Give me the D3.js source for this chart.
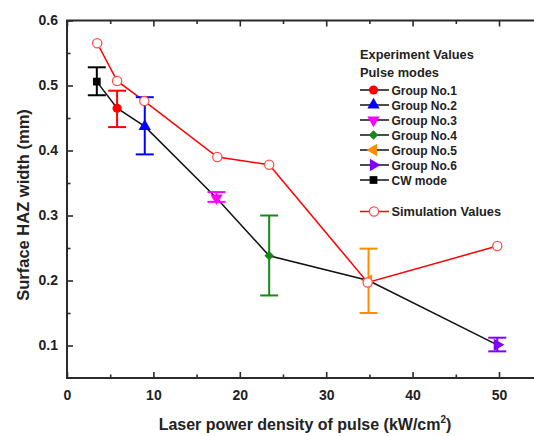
<!DOCTYPE html>
<html>
<head>
<meta charset="utf-8">
<script src="https://cdn.jsdelivr.net/npm/d3@7/dist/d3.min.js"></script>
<style>
  html, body { margin: 0; padding: 0; background: #fff; }
  svg { display: block; font-family: "Liberation Sans", Arial, sans-serif; }
</style>
</head>
<body>
<svg id="chart" width="534" height="436"></svg>
<script>
// Experimental groups (power density kW/cm², HAZ width mm, error low, error high)
const groupNames  = ["Group No.1", "Group No.2", "Group No.3", "Group No.4", "Group No.5", "Group No.6", "CW mode"];
const groupX      = [5.8, 9.0, 17.3, 23.4, 34.9, 49.8, 3.45];
const groupY      = [0.465, 0.437, 0.327, 0.238, 0.200, 0.101, 0.506];
const groupErrLo  = [0.436, 0.394, 0.321, 0.177, 0.150, 0.091, 0.485];
const groupErrHi  = [0.492, 0.482, 0.336, 0.300, 0.249, 0.112, 0.528];
const groupColors = ["#ff0000", "#0000ff", "#ff00ff", "#148a14", "#ff8c00", "#8000ff", "#000000"];
const groupShapes = ["circle", "triangle", "triangleDown", "diamond", "triangleLeft", "triangleRight", "square"];

// Experimental trend line order (by power density)
const expOrder = [6, 0, 1, 2, 3, 4, 5];

// Simulation values
const simX = [3.5, 5.8, 8.95, 17.4, 23.4, 34.8, 49.8];
const simY = [0.565, 0.507, 0.476, 0.390, 0.378, 0.197, 0.253];

// Axis ticks
const xTicks = [0, 10, 20, 30, 40, 50];
const xMinor = [5, 15, 25, 35, 45];
const yTicks = [0.1, 0.2, 0.3, 0.4, 0.5, 0.6];
const yMinor = [0.15, 0.25, 0.35, 0.45, 0.55];

(function () {
const svg = d3.select("#chart");
const mLeft = 67, mTop = 20.5, mBottom = 378, mRight = 545;

const x = d3.scaleLinear().domain([0, 50]).range([67, 499]);
const y = d3.scaleLinear().domain([0.05, 0.6]).range([mBottom, mTop]);

const axisColor = "#2b2b2b";

// Frame
svg.append("rect")
  .attr("x", mLeft).attr("y", mTop)
  .attr("width", mRight - mLeft).attr("height", mBottom - mTop)
  .attr("fill", "none").attr("stroke", axisColor).attr("stroke-width", 2);

function styleAxis(g) {
  g.select(".domain").remove();
  g.selectAll(".tick line").attr("stroke", axisColor).attr("stroke-width", 1.6);
  g.selectAll(".tick text")
    .attr("fill", "#222")
    .style("font-size", "14px")
    .style("font-weight", "bold");
}

// Bottom axis (ticks inward)
svg.append("g").attr("transform", `translate(0,${mBottom})`)
  .call(d3.axisBottom(x).tickValues(xTicks).tickSize(-6).tickPadding(12).tickFormat(d3.format("d")))
  .call(styleAxis);
svg.append("g").attr("transform", `translate(0,${mBottom})`)
  .call(d3.axisBottom(x).tickValues(xMinor).tickSize(-3.5).tickFormat(""))
  .call(styleAxis);
// Top axis mirrored ticks
svg.append("g").attr("transform", `translate(0,${mTop})`)
  .call(d3.axisTop(x).tickValues(xTicks).tickSize(-6).tickFormat(""))
  .call(styleAxis);
svg.append("g").attr("transform", `translate(0,${mTop})`)
  .call(d3.axisTop(x).tickValues(xMinor).tickSize(-3.5).tickFormat(""))
  .call(styleAxis);

// Left axis (ticks inward)
svg.append("g").attr("transform", `translate(${mLeft},0)`)
  .call(d3.axisLeft(y).tickValues(yTicks).tickSize(-6).tickPadding(9).tickFormat(d3.format(".1f")))
  .call(styleAxis);
svg.append("g").attr("transform", `translate(${mLeft},0)`)
  .call(d3.axisLeft(y).tickValues(yMinor).tickSize(-3.5).tickFormat(""))
  .call(styleAxis);

// Axis titles
const xTitle = svg.append("text")
  .attr("x", 305).attr("y", 430)
  .attr("text-anchor", "middle")
  .style("font-size", "16px").style("font-weight", "bold").attr("fill", "#222");
xTitle.append("tspan").text("Laser power density of pulse (kW/cm");
xTitle.append("tspan").attr("dy", -7).style("font-size", "10px").text("2");
xTitle.append("tspan").attr("dy", 7).text(")");

svg.append("text")
  .attr("transform", "translate(29,205) rotate(-90)")
  .attr("text-anchor", "middle")
  .style("font-size", "16.5px").style("font-weight", "bold").attr("fill", "#222")
  .text("Surface HAZ width (mm)");

// Marker symbols (diamond = square turned 45°)
function symbolFor(shape, size) {
  const types = {
    circle: d3.symbolCircle, square: d3.symbolSquare, diamond: d3.symbolSquare,
    triangle: d3.symbolTriangle, triangleDown: d3.symbolTriangle,
    triangleLeft: d3.symbolTriangle, triangleRight: d3.symbolTriangle
  };
  return d3.symbol().type(types[shape]).size(size)();
}
function rotationFor(shape) {
  return { triangleDown: 180, triangleLeft: -90, triangleRight: 90, diamond: 45 }[shape] || 0;
}

const plot = svg.append("g");

// Experimental trend line
const line = d3.line().x(d => x(d[0])).y(d => y(d[1]));
plot.append("path")
  .datum(expOrder.map(i => [groupX[i], groupY[i]]))
  .attr("d", line).attr("fill", "none").attr("stroke", "#111").attr("stroke-width", 1.5);

// Simulation line
plot.append("path")
  .datum(simX.map((v, i) => [v, simY[i]]))
  .attr("d", line).attr("fill", "none").attr("stroke", "#ff0000").attr("stroke-width", 1.5);

// Error bars
const cap = 9;
groupX.forEach((gx, i) => {
  const g = plot.append("g").attr("stroke", groupColors[i]).attr("stroke-width", 2);
  const px = x(gx);
  g.append("line").attr("x1", px).attr("x2", px).attr("y1", y(groupErrLo[i])).attr("y2", y(groupErrHi[i]));
  g.append("line").attr("x1", px - cap).attr("x2", px + cap).attr("y1", y(groupErrLo[i])).attr("y2", y(groupErrLo[i]));
  g.append("line").attr("x1", px - cap).attr("x2", px + cap).attr("y1", y(groupErrHi[i])).attr("y2", y(groupErrHi[i]));
});

// Experimental markers
const markerSize = { circle: 66, square: 60, diamond: 46, triangle: 66, triangleDown: 66, triangleLeft: 66, triangleRight: 66 };
groupX.forEach((gx, i) => {
  plot.append("path")
    .attr("d", symbolFor(groupShapes[i], markerSize[groupShapes[i]]))
    .attr("transform", `translate(${x(gx)},${y(groupY[i])}) rotate(${rotationFor(groupShapes[i])})`)
    .attr("fill", groupColors[i]);
});

// Simulation markers (open circles)
plot.selectAll(".sim").data(simX).enter().append("circle")
  .attr("cx", d => x(d)).attr("cy", (d, i) => y(simY[i]))
  .attr("r", 4.6).attr("fill", "#fff").attr("stroke", "#ff5050").attr("stroke-width", 1.3);

// Legend
const legend = svg.append("g").attr("fill", "#222").style("font-weight", "bold");
legend.append("text").attr("x", 360).attr("y", 59).style("font-size", "12.8px").text("Experiment Values");
legend.append("text").attr("x", 360).attr("y", 76.5).style("font-size", "12.8px").text("Pulse modes");

const rowY0 = 90, rowStep = 15;
groupNames.forEach((name, i) => {
  const cy = rowY0 + i * rowStep;
  legend.append("line").attr("x1", 360).attr("x2", 389).attr("y1", cy).attr("y2", cy)
    .attr("stroke", "#111").attr("stroke-width", 1.5);
  legend.append("path")
    .attr("d", symbolFor(groupShapes[i], markerSize[groupShapes[i]]))
    .attr("transform", `translate(373.5,${cy}) rotate(${rotationFor(groupShapes[i])})`)
    .attr("fill", groupColors[i]);
  legend.append("text").attr("x", 391.5).attr("y", cy + 4.5)
    .style("font-size", "12px").text(name);
});

const simRow = 211.5;
legend.append("line").attr("x1", 360).attr("x2", 389).attr("y1", simRow).attr("y2", simRow)
  .attr("stroke", "#ff0000").attr("stroke-width", 1.5);
legend.append("circle").attr("cx", 374).attr("cy", simRow).attr("r", 4.6)
  .attr("fill", "#fff").attr("stroke", "#ff5050").attr("stroke-width", 1.3);
legend.append("text").attr("x", 391.5).attr("y", simRow + 4.5)
  .style("font-size", "12.8px").text("Simulation Values");
})();
</script>
</body>
</html>
